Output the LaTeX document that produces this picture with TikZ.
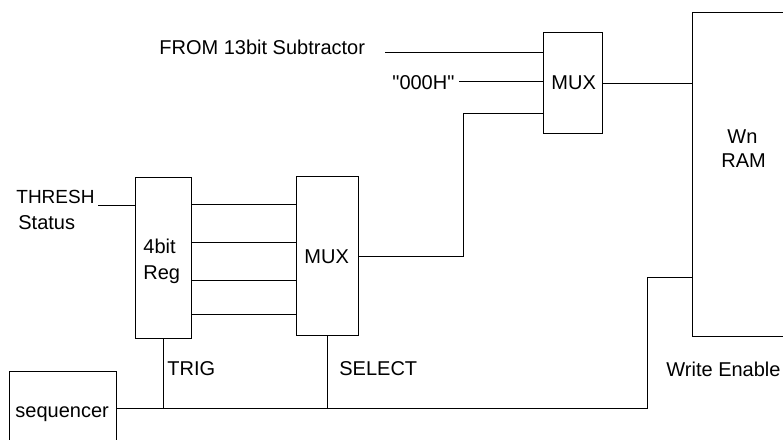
\documentclass[tikz,border=0pt]{standalone}
\usepackage{fontspec}
\setmainfont{Liberation Sans}[Ligatures=TeXOff]
\usetikzlibrary{calc}
\begin{document}
\begin{tikzpicture}[x=1pt,y=-1pt, line width=0.8pt,
  box/.style={draw, inner sep=0pt, anchor=north west},
  lbl/.style={inner sep=0pt, anchor=base west, font=\fontsize{20}{24}\selectfont}]
\useasboundingbox (0,0) rectangle (783,439);
% boxes
\node[box, minimum width=56pt, minimum height=161pt] (reg) at (135,177) {};
\node[box, minimum width=62pt, minimum height=159pt] (mux2) at (296,176) {};
\node[box, minimum width=59pt, minimum height=101pt] (mux1) at (543,32) {};
\node[box, minimum width=110pt, minimum height=324pt] (ram) at (692,12) {};
\node[box, minimum width=107pt, minimum height=74pt] (seq) at (9,371) {};
% labels
\node[lbl] (tfrom) at (159,54) {FROM 13bit Subtractor};
\node[lbl] (tzero) at (392,89) {"000H"};
\node[lbl] (tmux1) at (551,89) {MUX};
\node[lbl] (twn) at (727,143) {Wn};
\node[lbl] (tram) at (721,167) {RAM};
\node[lbl, font=\fontsize{19}{23}\selectfont] (tthr) at (16,203) {THRESH};
\node[lbl] (tsta) at (18,229) {Status};
\node[lbl] (t4b) at (143,253) {4bit};
\node[lbl] (treg) at (143,279) {Reg};
\node[lbl] (tmux2) at (304,263) {MUX};
\node[lbl] (ttrig) at (167,375) {TRIG};
\node[lbl] (tsel) at (339,375) {SELECT};
\node[lbl] (tseq) at (15,417) {sequencer};
\node[lbl] (twe) at (666,376) {Write Enable};
% connectors
\coordinate (f1) at (385,52);
\draw (f1) -- (f1 -| mux1.west);
\coordinate (z1) at (459,81);
\draw (z1) -- (z1 -| mux1.west);
\coordinate (c3) at (463,113);
\draw (mux2.east) -| (c3) -- (c3 -| mux1.west);
\draw (mux1.east) -- (mux1.east -| ram.west);
\coordinate (t1) at (98,205);
\draw (t1) -- (t1 -| reg.west);
\foreach \y in {204,242,280,314} {
  \path ($(reg.north east)+(0,\y-177)$) coordinate (a\y);
  \draw (a\y) -- (a\y -| mux2.west);
}
\coordinate (wc) at (647,277);
\draw (seq.east) -| (wc) -- (wc -| ram.west);
\draw (reg.south) -- (reg.south |- seq.east);
\draw (mux2.south) -- (mux2.south |- seq.east);
\end{tikzpicture}
\end{document}
